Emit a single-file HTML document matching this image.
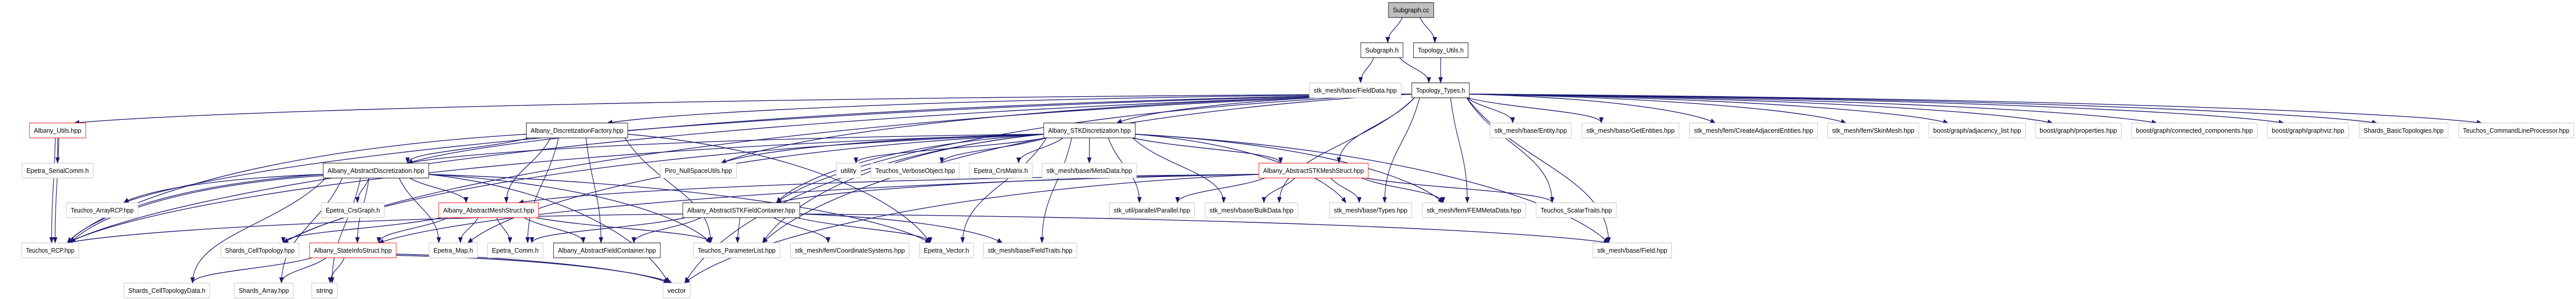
<!DOCTYPE html>
<html><head><meta charset="utf-8">
<style>
html,body{margin:0;padding:0;background:#fff;width:100%;height:100%;overflow:hidden;}
svg{display:block;width:100vw;height:100vh;}
text{font-family:"Liberation Sans",sans-serif;font-size:13px;fill:#000;}
</style></head>
<body>
<svg id="g" viewBox="0 0 5859 581" preserveAspectRatio="none" xmlns="http://www.w3.org/2000/svg">
<defs>
<marker id="ah" markerWidth="12" markerHeight="10" refX="11" refY="5" orient="auto" markerUnits="userSpaceOnUse">
<path d="M0,0 L12,5 L0,10 Z" fill="#191970"/>
</marker>
</defs>
<g id="edges" fill="none" stroke="#191970" stroke-width="1.4"></g>
<g id="nodes">
<rect x="3158" y="5" width="103" height="29" fill="#bfbfbf" stroke="#000"/><text x="3209.5" y="24" text-anchor="middle" textLength="83" lengthAdjust="spacingAndGlyphs">Subgraph.cc</text>
<rect x="3095" y="83" width="96" height="29" fill="#fff" stroke="#000"/><text x="3143" y="102" text-anchor="middle" textLength="76" lengthAdjust="spacingAndGlyphs">Subgraph.h</text>
<rect x="3215" y="83" width="124" height="29" fill="#fff" stroke="#000"/><text x="3277" y="102" text-anchor="middle" textLength="104" lengthAdjust="spacingAndGlyphs">Topology_Utils.h</text>
<rect x="2978" y="161" width="209" height="29" fill="#fff" stroke="#bfbfbf"/><text x="3082.5" y="180" text-anchor="middle" textLength="189" lengthAdjust="spacingAndGlyphs">stk_mesh/base/FieldData.hpp</text>
<rect x="3211" y="161" width="131" height="29" fill="#fff" stroke="#000"/><text x="3276.5" y="180" text-anchor="middle" textLength="111" lengthAdjust="spacingAndGlyphs">Topology_Types.h</text>
<rect x="67" y="239" width="128" height="29" fill="#fff" stroke="#ff0000"/><text x="131" y="258" text-anchor="middle" textLength="108" lengthAdjust="spacingAndGlyphs">Albany_Utils.hpp</text>
<rect x="1197" y="239" width="231" height="29" fill="#fff" stroke="#000"/><text x="1312.5" y="258" text-anchor="middle" textLength="211" lengthAdjust="spacingAndGlyphs">Albany_DiscretizationFactory.hpp</text>
<rect x="2374" y="239" width="208" height="29" fill="#fff" stroke="#000"/><text x="2478" y="258" text-anchor="middle" textLength="188" lengthAdjust="spacingAndGlyphs">Albany_STKDiscretization.hpp</text>
<rect x="3389" y="239" width="185" height="29" fill="#fff" stroke="#bfbfbf"/><text x="3481.5" y="258" text-anchor="middle" textLength="165" lengthAdjust="spacingAndGlyphs">stk_mesh/base/Entity.hpp</text>
<rect x="3598" y="239" width="221" height="29" fill="#fff" stroke="#bfbfbf"/><text x="3708.5" y="258" text-anchor="middle" textLength="201" lengthAdjust="spacingAndGlyphs">stk_mesh/base/GetEntities.hpp</text>
<rect x="3843" y="239" width="291" height="29" fill="#fff" stroke="#bfbfbf"/><text x="3988.5" y="258" text-anchor="middle" textLength="271" lengthAdjust="spacingAndGlyphs">stk_mesh/fem/CreateAdjacentEntities.hpp</text>
<rect x="4157" y="239" width="207" height="29" fill="#fff" stroke="#bfbfbf"/><text x="4260.5" y="258" text-anchor="middle" textLength="187" lengthAdjust="spacingAndGlyphs">stk_mesh/fem/SkinMesh.hpp</text>
<rect x="4387" y="239" width="220" height="29" fill="#fff" stroke="#bfbfbf"/><text x="4497" y="258" text-anchor="middle" textLength="200" lengthAdjust="spacingAndGlyphs">boost/graph/adjacency_list.hpp</text>
<rect x="4629" y="239" width="196" height="29" fill="#fff" stroke="#bfbfbf"/><text x="4727" y="258" text-anchor="middle" textLength="176" lengthAdjust="spacingAndGlyphs">boost/graph/properties.hpp</text>
<rect x="4848" y="239" width="286" height="29" fill="#fff" stroke="#bfbfbf"/><text x="4991" y="258" text-anchor="middle" textLength="266" lengthAdjust="spacingAndGlyphs">boost/graph/connected_components.hpp</text>
<rect x="5157" y="239" width="185" height="29" fill="#fff" stroke="#bfbfbf"/><text x="5249.5" y="258" text-anchor="middle" textLength="165" lengthAdjust="spacingAndGlyphs">boost/graph/graphviz.hpp</text>
<rect x="5366" y="239" width="202" height="29" fill="#fff" stroke="#bfbfbf"/><text x="5467" y="258" text-anchor="middle" textLength="182" lengthAdjust="spacingAndGlyphs">Shards_BasicTopologies.hpp</text>
<rect x="5592" y="239" width="262" height="29" fill="#fff" stroke="#bfbfbf"/><text x="5723" y="258" text-anchor="middle" textLength="242" lengthAdjust="spacingAndGlyphs">Teuchos_CommandLineProcessor.hpp</text>
<rect x="50" y="317" width="162" height="29" fill="#fff" stroke="#bfbfbf"/><text x="131" y="336" text-anchor="middle" textLength="142" lengthAdjust="spacingAndGlyphs">Epetra_SerialComm.h</text>
<rect x="735" y="317" width="240" height="29" fill="#fff" stroke="#000"/><text x="855" y="336" text-anchor="middle" textLength="220" lengthAdjust="spacingAndGlyphs">Albany_AbstractDiscretization.hpp</text>
<rect x="1502" y="317" width="173" height="29" fill="#fff" stroke="#bfbfbf"/><text x="1588.5" y="336" text-anchor="middle" textLength="153" lengthAdjust="spacingAndGlyphs">Piro_NullSpaceUtils.hpp</text>
<rect x="1902" y="317" width="56" height="29" fill="#fff" stroke="#bfbfbf"/><text x="1930" y="336" text-anchor="middle" textLength="36" lengthAdjust="spacingAndGlyphs">utility</text>
<rect x="1981" y="317" width="201" height="29" fill="#fff" stroke="#bfbfbf"/><text x="2081.5" y="336" text-anchor="middle" textLength="181" lengthAdjust="spacingAndGlyphs">Teuchos_VerboseObject.hpp</text>
<rect x="2205" y="317" width="143" height="29" fill="#fff" stroke="#bfbfbf"/><text x="2276.5" y="336" text-anchor="middle" textLength="123" lengthAdjust="spacingAndGlyphs">Epetra_CrsMatrix.h</text>
<rect x="2370" y="317" width="215" height="29" fill="#fff" stroke="#bfbfbf"/><text x="2477.5" y="336" text-anchor="middle" textLength="195" lengthAdjust="spacingAndGlyphs">stk_mesh/base/MetaData.hpp</text>
<rect x="2863" y="317" width="249" height="29" fill="#fff" stroke="#ff0000"/><text x="2987.5" y="336" text-anchor="middle" textLength="229" lengthAdjust="spacingAndGlyphs">Albany_AbstractSTKMeshStruct.hpp</text>
<rect x="151" y="394" width="163" height="29" fill="#fff" stroke="#bfbfbf"/><text x="232.5" y="413" text-anchor="middle" textLength="143" lengthAdjust="spacingAndGlyphs">Teuchos_ArrayRCP.hpp</text>
<rect x="731" y="394" width="143" height="29" fill="#fff" stroke="#bfbfbf"/><text x="802.5" y="413" text-anchor="middle" textLength="123" lengthAdjust="spacingAndGlyphs">Epetra_CrsGraph.h</text>
<rect x="998" y="394" width="227" height="29" fill="#fff" stroke="#ff0000"/><text x="1111.5" y="413" text-anchor="middle" textLength="207" lengthAdjust="spacingAndGlyphs">Albany_AbstractMeshStruct.hpp</text>
<rect x="1553" y="394" width="266" height="29" fill="#fff" stroke="#000"/><text x="1686" y="413" text-anchor="middle" textLength="246" lengthAdjust="spacingAndGlyphs">Albany_AbstractSTKFieldContainer.hpp</text>
<rect x="2523" y="394" width="194" height="29" fill="#fff" stroke="#bfbfbf"/><text x="2620" y="413" text-anchor="middle" textLength="174" lengthAdjust="spacingAndGlyphs">stk_util/parallel/Parallel.hpp</text>
<rect x="2741" y="394" width="211" height="29" fill="#fff" stroke="#bfbfbf"/><text x="2846.5" y="413" text-anchor="middle" textLength="191" lengthAdjust="spacingAndGlyphs">stk_mesh/base/BulkData.hpp</text>
<rect x="3024" y="394" width="187" height="29" fill="#fff" stroke="#bfbfbf"/><text x="3117.5" y="413" text-anchor="middle" textLength="167" lengthAdjust="spacingAndGlyphs">stk_mesh/base/Types.hpp</text>
<rect x="3235" y="394" width="235" height="29" fill="#fff" stroke="#bfbfbf"/><text x="3352.5" y="413" text-anchor="middle" textLength="215" lengthAdjust="spacingAndGlyphs">stk_mesh/fem/FEMMetaData.hpp</text>
<rect x="3494" y="394" width="182" height="29" fill="#fff" stroke="#bfbfbf"/><text x="3585" y="413" text-anchor="middle" textLength="162" lengthAdjust="spacingAndGlyphs">Teuchos_ScalarTraits.hpp</text>
<rect x="49" y="472" width="130" height="29" fill="#fff" stroke="#bfbfbf"/><text x="114" y="491" text-anchor="middle" textLength="110" lengthAdjust="spacingAndGlyphs">Teuchos_RCP.hpp</text>
<rect x="502" y="472" width="178" height="29" fill="#fff" stroke="#bfbfbf"/><text x="591" y="491" text-anchor="middle" textLength="158" lengthAdjust="spacingAndGlyphs">Shards_CellTopology.hpp</text>
<rect x="704" y="472" width="197" height="29" fill="#fff" stroke="#ff0000"/><text x="802.5" y="491" text-anchor="middle" textLength="177" lengthAdjust="spacingAndGlyphs">Albany_StateInfoStruct.hpp</text>
<rect x="976" y="472" width="110" height="29" fill="#fff" stroke="#bfbfbf"/><text x="1031" y="491" text-anchor="middle" textLength="90" lengthAdjust="spacingAndGlyphs">Epetra_Map.h</text>
<rect x="1109" y="472" width="126" height="29" fill="#fff" stroke="#bfbfbf"/><text x="1172" y="491" text-anchor="middle" textLength="106" lengthAdjust="spacingAndGlyphs">Epetra_Comm.h</text>
<rect x="1259" y="472" width="243" height="29" fill="#fff" stroke="#000"/><text x="1380.5" y="491" text-anchor="middle" textLength="223" lengthAdjust="spacingAndGlyphs">Albany_AbstractFieldContainer.hpp</text>
<rect x="1577" y="472" width="197" height="29" fill="#fff" stroke="#bfbfbf"/><text x="1675.5" y="491" text-anchor="middle" textLength="177" lengthAdjust="spacingAndGlyphs">Teuchos_ParameterList.hpp</text>
<rect x="1798" y="472" width="270" height="29" fill="#fff" stroke="#bfbfbf"/><text x="1933" y="491" text-anchor="middle" textLength="250" lengthAdjust="spacingAndGlyphs">stk_mesh/fem/CoordinateSystems.hpp</text>
<rect x="2091" y="472" width="123" height="29" fill="#fff" stroke="#bfbfbf"/><text x="2152.5" y="491" text-anchor="middle" textLength="103" lengthAdjust="spacingAndGlyphs">Epetra_Vector.h</text>
<rect x="2237" y="472" width="212" height="29" fill="#fff" stroke="#bfbfbf"/><text x="2343" y="491" text-anchor="middle" textLength="192" lengthAdjust="spacingAndGlyphs">stk_mesh/base/FieldTraits.hpp</text>
<rect x="3623" y="472" width="179" height="29" fill="#fff" stroke="#bfbfbf"/><text x="3712.5" y="491" text-anchor="middle" textLength="159" lengthAdjust="spacingAndGlyphs">stk_mesh/base/Field.hpp</text>
<rect x="282" y="550" width="195" height="29" fill="#fff" stroke="#bfbfbf"/><text x="379.5" y="569" text-anchor="middle" textLength="175" lengthAdjust="spacingAndGlyphs">Shards_CellTopologyData.h</text>
<rect x="533" y="550" width="134" height="29" fill="#fff" stroke="#bfbfbf"/><text x="600" y="569" text-anchor="middle" textLength="114" lengthAdjust="spacingAndGlyphs">Shards_Array.hpp</text>
<rect x="709" y="550" width="58" height="29" fill="#fff" stroke="#bfbfbf"/><text x="738" y="569" text-anchor="middle" textLength="38" lengthAdjust="spacingAndGlyphs">string</text>
<rect x="1508" y="550" width="62" height="29" fill="#fff" stroke="#bfbfbf"/><text x="1539" y="569" text-anchor="middle" textLength="42" lengthAdjust="spacingAndGlyphs">vector</text>
</g>
</svg>
<script>
var R=[5,83,161,239,317,394,472,550],H=29;
var N={cc:[3158,3261,0],Sh:[3095,3191,1],TU:[3215,3339,1],FD:[2978,3187,2],TT:[3211,3342,2],
Ut:[67,195,3],DF:[1197,1428,3],SD:[2374,2582,3],En:[3389,3574,3],GE:[3598,3819,3],CA:[3843,4134,3],SM:[4157,4364,3],
AL:[4387,4607,3],PR:[4629,4825,3],CC:[4848,5134,3],GV:[5157,5342,3],SB:[5366,5568,3],CL:[5592,5854,3],
SC:[50,212,4],AD:[735,975,4],PN:[1502,1675,4],UT:[1902,1958,4],VO:[1981,2182,4],CM:[2205,2348,4],MD:[2370,2585,4],SMS:[2863,3112,4],
AR:[151,314,5],CG:[731,874,5],AM:[998,1225,5],SF:[1553,1819,5],PA:[2523,2717,5],BD:[2741,2952,5],TY:[3024,3211,5],FM:[3235,3470,5],ST:[3494,3676,5],
RC:[49,179,6],CT:[502,680,6],SI:[704,901,6],MP:[976,1086,6],CO:[1109,1235,6],AF:[1259,1502,6],PL:[1577,1774,6],CS:[1798,2068,6],EV:[2091,2214,6],FT:[2237,2449,6],FI:[3623,3802,6],
CD:[282,477,7],SA:[533,667,7],SG:[709,767,7],VE:[1508,1570,7]};
var E="cc-Sh cc-TU Sh-FD Sh-TT TU-TT TT-En TT-GE TT-CA TT-SM TT-AL TT-PR TT-CC TT-GV TT-SB TT-CL TT-TY TT-FM TT-ST TT-FI TT-Ut TT-DF TT-SD TT-RC TT-AR TT-AD TT-CT TT-PN TT-SF TT-BD TT-SMS TT-PL "+
"Ut-SC Ut-RC Ut-RC DF-AD DF-AM DF-CO DF-AF DF-RC DF-PL DF-EV "+
"AD-AR AD-RC AD-CG AD-AM AD-SI AD-MP AD-CD AD-SA AD-SG AD-VE AD-EV AD-PL AD-RC "+
"AM-CT AM-SI AM-MP AM-CO AM-AF AM-PL SI-CD SI-SA SI-SG SI-VE SI-VE "+
"SD-AD SD-PN SD-UT SD-VO SD-CM SD-MD SD-SMS SD-PA SD-BD SD-FT SD-VE SD-TY SD-FM SD-FI SD-MP SD-EV SD-PL SD-CT SD-RC SD-SF "+
"SMS-SF SMS-AM SMS-PA SMS-BD SMS-VE SMS-TY SMS-FM SMS-ST SMS-SI "+
"SF-PL SF-CS SF-EV SF-FT SF-FI SF-AF SF-CO SF-RC";
function cl(v,a,b){return Math.max(a,Math.min(b,v));}
var out="",seen={};
E.split(/\s+/).forEach(function(e){
 var p=e.split("-"),s=N[p[0]],t=N[p[1]];if(!s||!t)return;
 var k=e;seen[k]=(seen[k]||0)+1;var off=(seen[k]-1)*8;
 var scx=(s[0]+s[1])/2,tcx=(t[0]+t[1])/2,sw=(s[1]-s[0])/2,tw=(t[1]-t[0])/2;
 var tx=tcx+cl((scx-tcx)*0.2,-tw*0.6,tw*0.6)+off,ty=R[t[2]];
 var sx,sy,c1x,c1y,c2x,c2y;
 if(Math.abs(tcx-scx)>600){
  sx=(tcx>scx?s[1]:s[0]);sy=R[s[2]]+H*0.75+off*0.3;
  var dy=ty-sy;
  c1x=sx+(tx-sx)*0.6;c1y=sy+dy*0.15;c2x=tx-(tx-sx)*0.08;c2y=ty-dy*0.35;
 }else{
  sx=scx+cl((tcx-scx)*0.3,-sw+6,sw-6)+off;sy=R[s[2]]+H;
  var dy=ty-sy;
  c1x=sx+(tx-sx)*0.35;c1y=sy+dy*0.45;c2x=tx;c2y=ty-dy*0.45;
 }
 out+='<path d="M'+sx+','+sy+' C'+c1x+','+c1y+' '+c2x+','+c2y+' '+tx+','+ty+'" marker-end="url(#ah)"/>';
});
document.getElementById("edges").innerHTML=out;
</script>
</body></html>
